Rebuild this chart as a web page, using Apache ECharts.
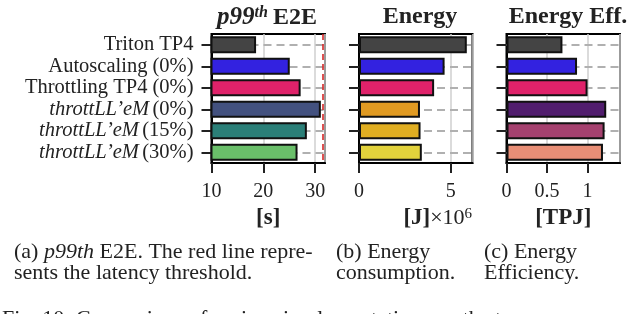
<!DOCTYPE html>
<html>
<head>
<meta charset="utf-8">
<script src="https://cdn.jsdelivr.net/npm/echarts@6/dist/echarts.min.js"></script>
<style>
html,body{margin:0;padding:0;background:#fff;}
#c{width:640px;height:314px;}
</style>
</head>
<body>
<div id="c"></div>
<script>
const categories = ['Triton TP4', 'Autoscaling (0%)', 'Throttling TP4 (0%)', "throttLL'eM (0%)", "throttLL'eM (15%)", "throttLL'eM (30%)"];
const latency = [18.6, 25.1, 27.2, 31.1, 28.4, 26.6];
const latencyThreshold = 31.4;
const energy = [5.87, 4.66, 4.09, 3.32, 3.35, 3.42];
const efficiency = [0.69, 0.87, 1.0, 1.23, 1.21, 1.19];
const latencyTicks = [10, 20, 30];
const energyTicks = [0, 5];
const effTicks = [0, 0.5, 1];

const FONT = 'Liberation Serif';
const baseColors = ['#444444', '#3322e0', '#e0226a'];
const colorsA = baseColors.concat(['#43517f', '#2b7f78', '#6abf6a']);
const colorsB = baseColors.concat(['#e09a22', '#e0ae22', '#e2d23c']);
const colorsC = baseColors.concat(['#511d6e', '#a5416f', '#e88e76']);

const grids = [
  {left: 211.5, top: 34, width: 113.5, height: 129},
  {left: 359, top: 34, width: 113.5, height: 129},
  {left: 506.5, top: 34, width: 113.5, height: 129}
];

function catLabel(v) {
  const m = v.match(/^throttLL'eM (.*)$/);
  if (m) return '{i|throttLL\u2019eM} {n|' + m[1] + '}';
  return '{n|' + v + '}';
}

function yAxisFor(i, showLabels) {
  return {
    type: 'category', gridIndex: i, data: categories, inverse: true,
    axisLine: {show: true, lineStyle: {color: '#000', width: 2}},
    axisTick: {show: true, alignWithLabel: true, length: 10, lineStyle: {color: '#222', width: 2}},
    axisLabel: {
      show: showLabels, margin: 18, formatter: catLabel,
      rich: {
        n: {fontFamily: FONT, fontSize: 20.5, color: '#222'},
        i: {fontFamily: FONT, fontSize: 20.5, color: '#222', fontStyle: 'italic'}
      }
    },
    splitLine: {show: false}
  };
}

function xAxisFor(i, min, max, interval, ticks, name, nameRich, namePad) {
  return {
    type: 'value', gridIndex: i, min: min, max: max, interval: interval,
    axisLine: {show: true, lineStyle: {color: '#000', width: 2}},
    axisTick: {show: true, length: 10, lineStyle: {color: '#222', width: 2}},
    axisLabel: {
      margin: 19, fontFamily: FONT, fontSize: 20, color: '#222', showMaxLabel: false,
      formatter: function (v) { return ticks.indexOf(v) >= 0 ? String(v) : ''; }
    },
    splitLine: {show: true, lineStyle: {color: '#cfcfcf', width: 1.5}},
    name: name, nameLocation: 'middle', nameGap: 44,
    nameTextStyle: {rich: nameRich, padding: namePad}
  };
}

const nameRich = {
  b: {fontFamily: FONT, fontSize: 23, fontWeight: 'bold', color: '#222'},
  r: {fontFamily: FONT, fontSize: 22, color: '#222'},
  s: {fontFamily: FONT, fontSize: 15, color: '#222', verticalAlign: 'top', lineHeight: 12}
};

function guideSeries(i) {
  return {
    type: 'line', xAxisIndex: i, yAxisIndex: i, data: [], z: 1, silent: true,
    markLine: {
      silent: true, symbol: 'none', label: {show: false}, z: 1,
      lineStyle: {color: '#b0b0b0', type: [8, 5], width: 2},
      data: categories.map(c => ({yAxis: c}))
    }
  };
}

function barSeries(i, values, colors, extra) {
  const s = {
    type: 'bar', xAxisIndex: i, yAxisIndex: i, barWidth: '80%', z: 3,
    data: values.map((v, k) => ({value: v, itemStyle: {color: colors[k]}})),
    itemStyle: {borderColor: '#111', borderWidth: 2}
  };
  return Object.assign(s, extra || {});
}

const titleRich = {
  i: {fontFamily: FONT, fontSize: 25, fontStyle: 'italic', color: '#222'},
  sup: {fontFamily: FONT, fontSize: 16, fontStyle: 'italic', color: '#222', verticalAlign: 'top', lineHeight: 14},
  b: {fontFamily: FONT, fontSize: 24, fontWeight: 'bold', color: '#222'}
};

const capFont = '22px "Liberation Serif"';

const option = {
  animation: false,
  backgroundColor: '#fff',
  title: [
    {text: '{i|p99}{sup|th} {b|E2E}', left: 262, top: 0, textAlign: 'center', textStyle: {rich: titleRich}},
    {text: '{b|Energy}', left: 415, top: 0, textAlign: 'center', textStyle: {rich: titleRich}},
    {text: '{b|Energy Eff.}', left: 563, top: 0, textAlign: 'center', textStyle: {rich: titleRich}}
  ],
  grid: grids.map(g => Object.assign({show: true, borderColor: '#000', borderWidth: 2, backgroundColor: 'transparent'}, g)),
  xAxis: [
    xAxisFor(0, 10, 31.9, 10, latencyTicks, '{b|[s]}', nameRich, [0, 0, 0, 0]),
    xAxisFor(1, 0, 6.18, 5, energyTicks, '{b|[J]}{r|\u00d710}{s|6}', nameRich, [0, 0, 0, 44]),
    xAxisFor(2, 0, 1.4, 0.5, effTicks, '{b|[TPJ]}', nameRich, [0, 0, 0, 0])
  ],
  yAxis: [yAxisFor(0, true), yAxisFor(1, false), yAxisFor(2, false)],
  series: [
    guideSeries(0), guideSeries(1), guideSeries(2),
    barSeries(0, latency, colorsA, {
      markLine: {
        silent: true, symbol: 'none', label: {show: false},
        lineStyle: {color: '#d62728', type: [6, 4], width: 1.6},
        data: [{xAxis: latencyThreshold}]
      }
    }),
    barSeries(1, energy, colorsB),
    barSeries(2, efficiency, colorsC)
  ],
  graphic: [
    {type: 'text', left: 14, top: 241.5, style: {text: '(a) {i|p99th} E2E. The red line repre-', font: capFont, fill: '#222', rich: {i: {fontFamily: FONT, fontSize: 22, fontStyle: 'italic', fill: '#222'}}}},
    {type: 'text', left: 14, top: 262.5, style: {text: 'sents the latency threshold.', font: capFont, fill: '#222'}},
    {type: 'text', left: 336, top: 241.5, style: {text: '(b) Energy', font: capFont, fill: '#222'}},
    {type: 'text', left: 336, top: 262.5, style: {text: 'consumption.', font: capFont, fill: '#222'}},
    {type: 'text', left: 484, top: 241.5, style: {text: '(c) Energy', font: capFont, fill: '#222'}},
    {type: 'text', left: 484, top: 262.5, style: {text: 'Efficiency.', font: capFont, fill: '#222'}},
    {type: 'text', left: 2, top: 308.5, style: {text: 'Fig. 10: Comparison of various implementations on the trace', font: capFont, fill: '#222'}}
  ]
};

const chart = echarts.init(document.getElementById('c'), null, {renderer: 'canvas'});
chart.setOption(option);
</script>
</body>
</html>
